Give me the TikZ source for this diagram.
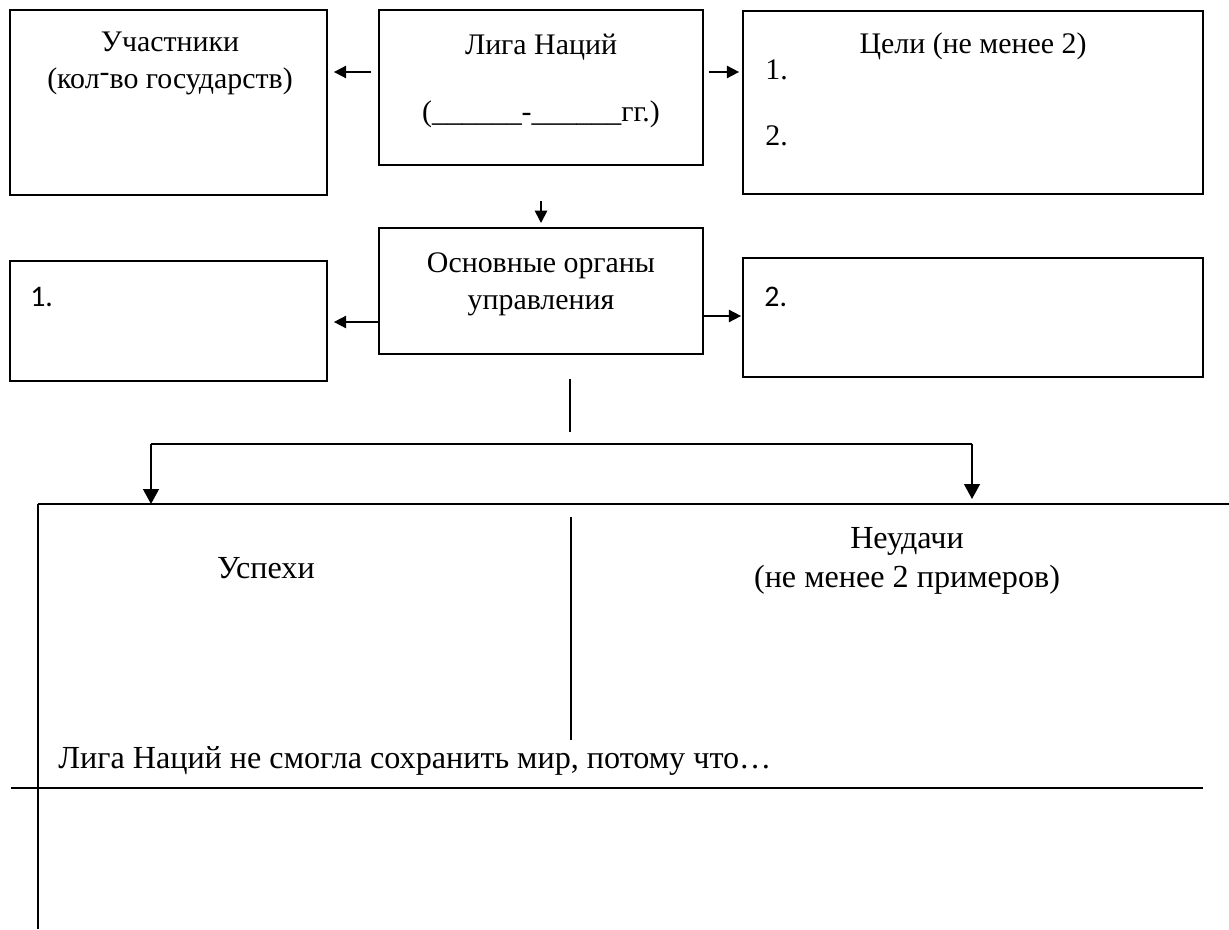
\documentclass[tikz,border=0pt]{standalone}
\usepackage{fontspec}
\setmainfont{Liberation Serif}
\newfontfamily\calfont{Carlito}
\usetikzlibrary{arrows.meta,fit}

\tikzset{
  box/.style={draw, line width=1pt, inner sep=0pt},
  arr/.style={-{Triangle[length=7pt,width=7pt]}, line width=1pt},
  bigarr/.style={-{Triangle[length=8.5pt,width=9pt]}, line width=1pt},
  txt/.style={inner sep=0pt, font=\fontsize{17}{21}\selectfont},
  lowtxt/.style={inner sep=0pt, font=\fontsize{18.3}{22.5}\selectfont},
}

\begin{document}
\begin{tikzpicture}[x=0.02cm,y=-0.02cm]
\useasboundingbox (0,0) rectangle (1229,929);

% top row
\node[box, fit={(10,10) (327,195)}] (uch) {};
\node[box, fit={(379,10) (703,165)}] (liga) {};
\node[box, fit={(743,11) (1203,194)}] (celi) {};

\node[txt, align=center] (uchT) at (170,63) {Участники\\(кол\raisebox{0.45ex}{-}во государств)};
\node[txt, align=center] (ligaT) at (541,81) {Лига Наций\\[0.6cm](\_\_\_\_\_\_-\_\_\_\_\_\_гг.)};
\node[txt] (celiT) at (973,46) {Цели (не менее 2)};
\node[txt, anchor=west] (celi1) at (765,70) {1.};
\node[txt, anchor=west] (celi2) at (765,136) {2.};

\coordinate (ytop) at (0,72);
\draw[arr, shorten <=0.14cm, shorten >=0.12cm] (liga.west |- ytop) -- (uch.east |- ytop);
\draw[arr, shorten <=0.1cm, shorten >=0.06cm] (liga.east |- ytop) -- (celi.west |- ytop);
\draw[arr, shorten <=0.7cm, shorten >=0.1cm] (liga.south) -- (541,228);

% second row
\node[box, fit={(379,228) (703,354)}] (org) {};
\node[box, fit={(10,261) (327,381)}] (orgA) {};
\node[box, fit={(743,258) (1203,377)}] (orgB) {};

\node[txt, align=center] (orgT) at (541,284) {Основные органы\\управления};
\node[txt, anchor=west, font=\calfont\fontsize{17}{21}\selectfont] (orgA1) at (30,297) {1.};
\node[txt, anchor=west, font=\calfont\fontsize{17}{21}\selectfont] (orgB2) at (764,297) {2.};

\coordinate (yl) at (0,322);
\coordinate (yr) at (0,316);
\draw[arr, shorten >=0.12cm] (org.west |- yl) -- (orgA.east |- yl);
\draw[arr, shorten >=0.02cm] (org.east |- yr) -- (orgB.west |- yr);

% lower part
\coordinate (s1) at (570,379);
\coordinate (s2) at (570,432);
\draw[line width=1pt] (s1) -- (s2);

\coordinate (bl) at (151,444);
\coordinate (br) at (972,444);
\draw[line width=1pt] (bl) -- (br);
\foreach \x/\y in {151/504,972/499}
  \draw[bigarr] (\x,443.5) -- (\x,\y);

\draw[line width=1pt] (38,504) -- (1229,504);
\draw[line width=1pt] (38,504) -- (38,929);
\draw[line width=1pt] (571,517) -- (571,740);
\draw[line width=1pt] (11,788) -- (1203,788);

\node[lowtxt] (usp) at (266,568) {Успехи};
\node[lowtxt, align=center] (neud) at (907,561) {Неудачи\\(не менее 2 примеров)};
\node[lowtxt, anchor=west] (itog) at (58,761) {Лига Наций не смогла сохранить мир, потому что…};

\end{tikzpicture}
\end{document}
